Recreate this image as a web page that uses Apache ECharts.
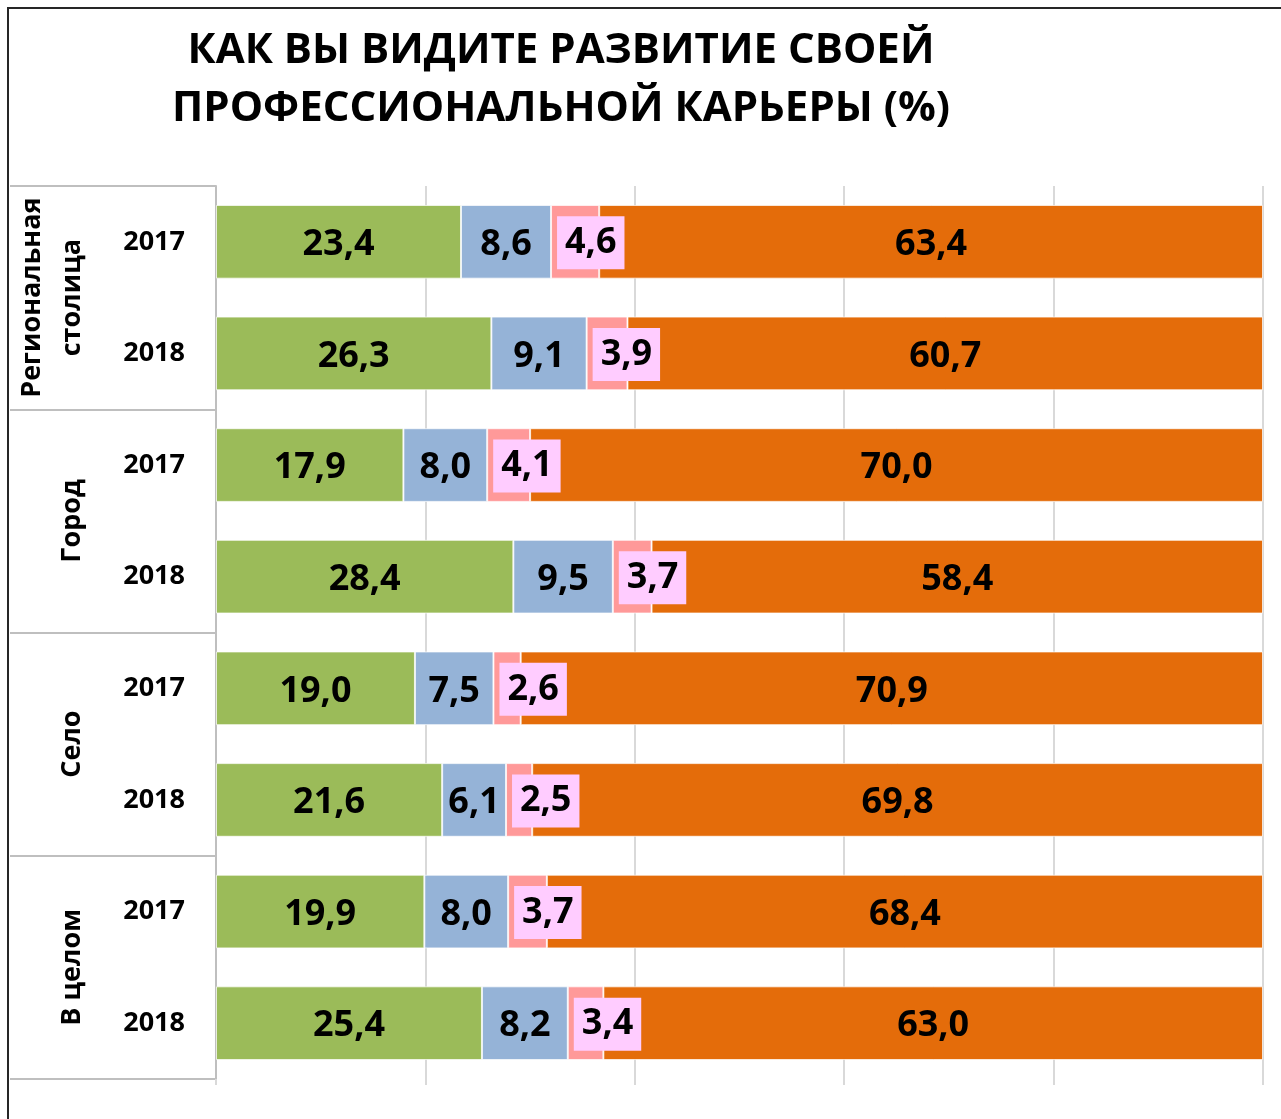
<!DOCTYPE html>
<html>
<head>
<meta charset="utf-8">
<script src="https://cdn.jsdelivr.net/npm/echarts@6/dist/echarts.min.js"></script>
<style>
  html, body { margin: 0; padding: 0; background: #fff; }
  #chart { width: 1281px; height: 1119px; }
</style>
</head>
<body>
<div id="chart"></div>
<script>
// groups and years (two-level category axis)
var groups = ['Региональная\nстолица', 'Город', 'Село', 'В целом'];
var years = ['2017', '2018'];

// series values, one per row (group x year), top to bottom
var greenValues  = [23.4, 26.3, 17.9, 28.4, 19.0, 21.6, 19.9, 25.4];
var blueValues   = [8.6, 9.1, 8.0, 9.5, 7.5, 6.1, 8.0, 8.2];
var pinkValues   = [4.6, 3.9, 4.1, 3.7, 2.6, 2.5, 3.7, 3.4];
var orangeValues = [63.4, 60.7, 70.0, 58.4, 70.9, 69.8, 68.4, 63.0];

var xTicks = [0, 20, 40, 60, 80, 100];

var rows = [];
groups.forEach(function (g) {
    years.forEach(function (y) {
        rows.push(g + '|' + y);
    });
});

var FONT = '"Open Sans", sans-serif';

function fmt(p) {
    return p.value.toFixed(1).replace('.', ',');
}

var baseLabel = {
    show: true,
    position: 'inside',
    offset: [0, 3],
    formatter: fmt,
    color: '#000',
    fontFamily: FONT,
    fontWeight: 'bold',
    fontSize: 36
};

function makeSeries(name, data, color, label) {
    return {
        name: name,
        type: 'bar',
        stack: 'total',
        barWidth: '66%',
        data: data,
        itemStyle: { color: color, borderColor: 'rgba(255,255,255,0.7)', borderWidth: 1 },
        label: label || baseLabel,
        emphasis: { disabled: true }
    };
}

var myChart = echarts.init(document.getElementById('chart'));

var option = {
    animation: false,
    title: {
        text: 'КАК ВЫ ВИДИТЕ РАЗВИТИЕ СВОЕЙ\nПРОФЕССИОНАЛЬНОЙ КАРЬЕРЫ (%)',
        left: 556,
        top: 17,
        textAlign: 'center',
        textStyle: {
            fontFamily: FONT,
            fontWeight: 'bold',
            fontSize: 42,
            lineHeight: 58,
            color: '#000'
        }
    },
    graphic: [{
        type: 'rect',
        shape: { x: 8, y: 8, width: 1400, height: 1300 },
        style: { fill: 'none', stroke: '#262626', lineWidth: 2 },
        silent: true
    }],
    grid: { left: 216, right: 18, top: 186, bottom: 40 },
    xAxis: {
        type: 'value',
        min: xTicks[0],
        max: xTicks[xTicks.length - 1],
        interval: 20,
        axisLabel: { show: false },
        axisLine: { show: false },
        axisTick: { show: true, length: 6, lineStyle: { color: '#D9D9D9', width: 2 } },
        splitLine: { show: true, lineStyle: { color: '#D9D9D9', width: 2 } }
    },
    yAxis: [{
        type: 'category',
        data: rows,
        inverse: true,
        position: 'left',
        axisLine: { show: true, lineStyle: { color: '#BFBFBF', width: 2 } },
        axisTick: { show: false },
        axisLabel: {
            interval: 0,
            formatter: function (v) { return v.split('|')[1]; },
            margin: 31,
            fontFamily: FONT,
            fontWeight: 'bold',
            fontSize: 27,
            color: '#000'
        }
    }, {
        type: 'category',
        data: groups,
        inverse: true,
        position: 'left',
        offset: 0,
        axisLine: { show: false },
        axisTick: { show: true, interval: 0, length: 206, lineStyle: { color: '#BFBFBF', width: 2 } },
        axisLabel: {
            interval: 0,
            rotate: 90,
            margin: 124,
            fontFamily: FONT,
            fontWeight: 'bold',
            fontSize: 27,
            lineHeight: 40,
            color: '#000'
        }
    }],
    series: [
        makeSeries('Серия 1', greenValues, '#9BBB59'),
        makeSeries('Серия 2', blueValues, '#95B3D7'),
        makeSeries('Серия 3', pinkValues, '#FF9999', Object.assign({}, baseLabel, {
            position: 'insideLeft',
            distance: 6,
            offset: [0, 1],
            backgroundColor: '#FFCCFF',
            padding: [10, 8, 7, 8]
        })),
        makeSeries('Серия 4', orangeValues, '#E46C0A')
    ]
};

myChart.setOption(option);
</script>
</body>
</html>
